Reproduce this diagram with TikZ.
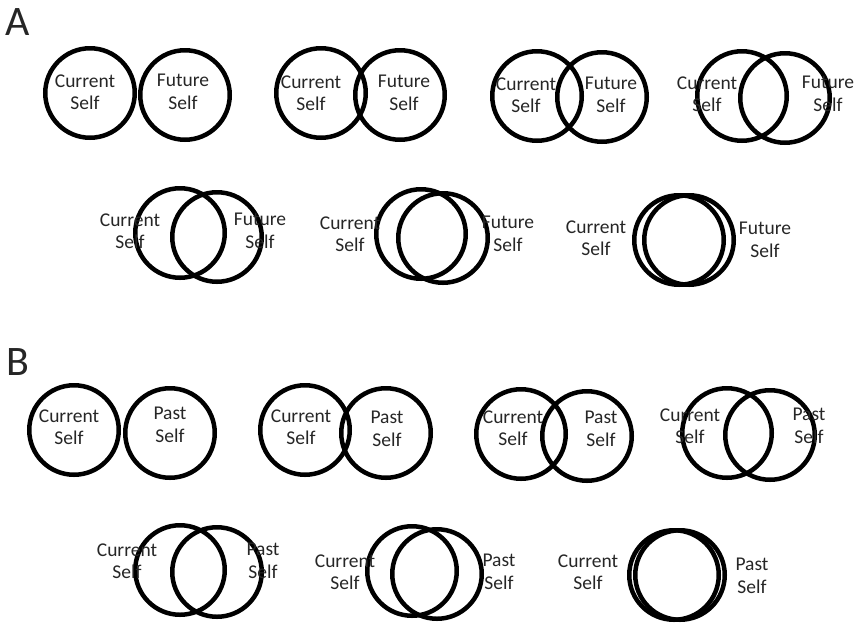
\documentclass[tikz,border=0pt]{standalone}
\usepackage{fontspec}
\setmainfont{Carlito}

\begin{document}
\begin{tikzpicture}[x=1pt, y=-1pt,
    self/.style={circle, draw, line width=4.5pt, minimum size=89.5pt, inner sep=0pt},
    lbl/.style={align=center, text=black!85, font=\fontsize{19.5}{22.5}\selectfont},
    panel/.style={font=\fontsize{42}{42}\selectfont, text=black!85}]
    \useasboundingbox (0,0) rectangle (858,625);

    % panel labels
        \node[panel] (pA) at (18,22) {A};
        \node[panel] (pB) at (18,362) {B};

    % future, first row
    \node[self] (cur1) at (90,93) {};
    \node[self] (fut1) at (185,95) {};
        \node[lbl] (cur1t) at (85,92) {Current\\Self};
        \node[lbl] (fut1t) at (183,92) {Future\\Self};
    \node[self] (cur2) at (321,93) {};
    \node[self] (fut2) at (400,95) {};
        \node[lbl] (cur2t) at (311,93) {Current\\Self};
        \node[lbl] (fut2t) at (404,93) {Future\\Self};
    \node[self] (cur3) at (537,96) {};
    \node[self] (fut3) at (602,97) {};
        \node[lbl] (cur3t) at (526,95) {Current\\Self};
        \node[lbl] (fut3t) at (611,95) {Future\\Self};
    \node[self] (cur4) at (742,96) {};
    \node[self] (fut4) at (785,98) {};
        \node[lbl] (cur4t) at (707,94) {Current\\Self};
        \node[lbl] (fut4t) at (828,94) {Future\\Self};

    % future, second row
    \node[self] (cur5) at (180,233) {};
    \node[self] (fut5) at (217,237) {};
        \node[lbl] (cur5t) at (130,231) {Current\\Self};
        \node[lbl] (fut5t) at (260,231) {Future\\Self};
    \node[self] (cur6) at (421,234) {};
    \node[self] (fut6) at (443,238) {};
        \node[lbl] (cur6t) at (350,234) {Current\\Self};
        \node[lbl] (fut6t) at (508,234) {Future\\Self};
    \node[self] (cur7) at (679,240) {};
    \node[self] (fut7) at (689,240) {};
        \node[lbl] (cur7t) at (596,238) {Current\\Self};
        \node[lbl] (fut7t) at (765,240) {Future\\Self};

    % past, first row
    \node[self] (curB1) at (74,430) {};
    \node[self] (past1) at (170,433) {};
        \node[lbl] (curB1t) at (69,427) {Current\\Self};
        \node[lbl] (past1t) at (170,425) {Past\\Self};
    \node[self] (curB2) at (305,430) {};
    \node[self] (past2) at (386,433) {};
        \node[lbl] (curB2t) at (301,427) {Current\\Self};
        \node[lbl] (past2t) at (387,429) {Past\\Self};
    \node[self] (curB3) at (521,434) {};
    \node[self] (past3) at (587,436) {};
        \node[lbl] (curB3t) at (513,428) {Current\\Self};
        \node[lbl] (past3t) at (601,429) {Past\\Self};
    \node[self] (curB4) at (727,433) {};
    \node[self] (past4) at (770,435) {};
        \node[lbl] (curB4t) at (690,426) {Current\\Self};
        \node[lbl] (past4t) at (809,426) {Past\\Self};

    % past, second row
    \node[self] (curB5) at (180,570) {};
    \node[self] (past5) at (217,572) {};
        \node[lbl] (curB5t) at (127,561) {Current\\Self};
        \node[lbl] (past5t) at (263,561) {Past\\Self};
    \node[self] (curB6) at (412,571) {};
    \node[self] (past6) at (437,574) {};
        \node[lbl] (curB6t) at (345,572) {Current\\Self};
        \node[lbl] (past6t) at (499,572) {Past\\Self};
    \node[self] (curB7) at (674,575) {};
    \node[self] (past7) at (680,575) {};
        \node[lbl] (curB7t) at (588,572) {Current\\Self};
        \node[lbl] (past7t) at (752,576) {Past\\Self};

\end{tikzpicture}
\end{document}
